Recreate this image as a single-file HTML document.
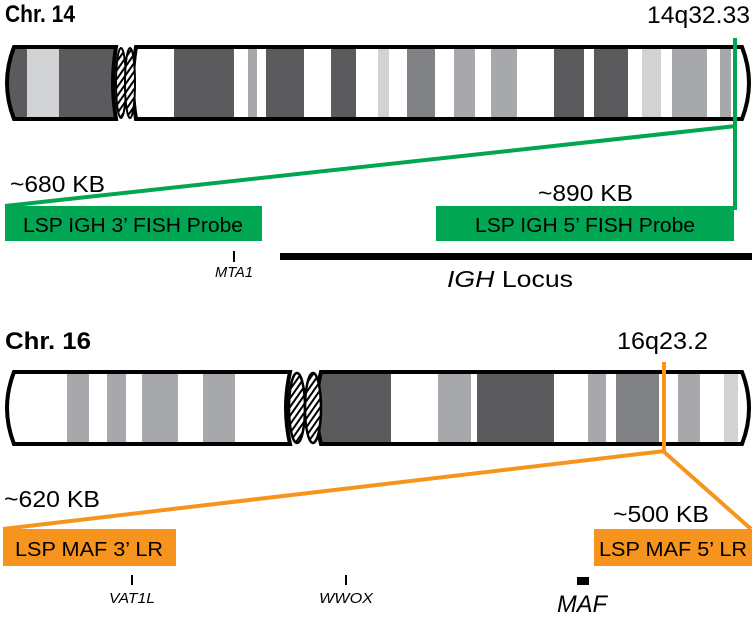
<!DOCTYPE html>
<html><head><meta charset="utf-8"><style>
html,body{margin:0;padding:0;background:#fff;}
svg{display:block;}
text{font-family:"Liberation Sans Narrow","Liberation Sans",sans-serif;}
</style></head><body>
<svg width="754" height="620" viewBox="0 0 754 620" xmlns="http://www.w3.org/2000/svg">
<defs>
<pattern id="h" width="5" height="5" patternUnits="userSpaceOnUse" patternTransform="rotate(35)">
<rect width="5" height="5" fill="#fff"/><rect width="2" height="5" fill="#000"/></pattern>
<clipPath id="c14l"><path d="M14,47 L116,47 Q110,83 116,119 L14,119 Q0,83 14,47Z"/></clipPath>
<clipPath id="c14r"><path d="M136,47 L742,47 Q756,83 742,119 L136,119 Q130,83 136,47Z"/></clipPath>
<clipPath id="c16l"><path d="M14,372 L290,372 Q282,408 290,444 L14,444 Q0,408 14,372Z"/></clipPath>
<clipPath id="c16r"><path d="M321,372 L742,372 Q756,408 742,444 L321,444 Q312,408 321,372Z"/></clipPath>
</defs>

<!-- Chr 14 -->
<text x="5" y="22" font-size="24" font-weight="bold" textLength="70" lengthAdjust="spacingAndGlyphs">Chr. 14</text>
<text x="647" y="23" font-size="24" textLength="103" lengthAdjust="spacingAndGlyphs">14q32.33</text>

<g clip-path="url(#c14l)">
<rect x="0" y="40" width="130" height="90" fill="#5b5b5d"/>
<rect x="27" y="40" width="32" height="90" fill="#d1d2d4"/>
</g>
<g clip-path="url(#c14r)">
<rect x="130" y="40" width="630" height="90" fill="#fff"/>
<rect x="174" y="40" width="60" height="90" fill="#5b5b5d"/>
<rect x="248" y="40" width="9" height="90" fill="#a7a8ab"/>
<rect x="266" y="40" width="38" height="90" fill="#5b5b5d"/>
<rect x="331" y="40" width="25" height="90" fill="#5b5b5d"/>
<rect x="378" y="40" width="11" height="90" fill="#d1d2d4"/>
<rect x="407" y="40" width="28" height="90" fill="#808184"/>
<rect x="454" y="40" width="21" height="90" fill="#a7a8ab"/>
<rect x="491" y="40" width="26" height="90" fill="#a7a8ab"/>
<rect x="554" y="40" width="30" height="90" fill="#5b5b5d"/>
<rect x="594" y="40" width="34" height="90" fill="#5b5b5d"/>
<rect x="642" y="40" width="19" height="90" fill="#d1d2d4"/>
<rect x="672" y="40" width="35" height="90" fill="#a7a8ab"/>
<rect x="720" y="40" width="11" height="90" fill="#a7a8ab"/>
</g>
<path d="M14,47 L116,47 Q110,83 116,119 L14,119 Q0,83 14,47Z" fill="none" stroke="#000" stroke-width="4"/>
<path d="M136,47 L742,47 Q756,83 742,119 L136,119 Q130,83 136,47Z" fill="none" stroke="#000" stroke-width="4"/>
<ellipse cx="121" cy="83" rx="5" ry="35" fill="url(#h)" stroke="#000" stroke-width="2"/>
<ellipse cx="130" cy="83" rx="5" ry="35" fill="url(#h)" stroke="#000" stroke-width="2"/>

<g stroke="#00a651" stroke-width="4" fill="none">
<line x1="735" y1="38" x2="735" y2="210"/>
<line x1="736" y1="126" x2="5" y2="206"/>
</g>
<text x="10" y="192" font-size="23" textLength="95" lengthAdjust="spacingAndGlyphs">~680 KB</text>
<text x="538" y="201" font-size="23" textLength="95" lengthAdjust="spacingAndGlyphs">~890 KB</text>
<rect x="5" y="206" width="257" height="35" fill="#00a651"/>
<rect x="436" y="206" width="298" height="35" fill="#00a651"/>
<text x="133" y="232" font-size="20" text-anchor="middle" textLength="220" lengthAdjust="spacingAndGlyphs">LSP IGH 3’ FISH Probe</text>
<text x="585" y="232" font-size="20" text-anchor="middle" textLength="220" lengthAdjust="spacingAndGlyphs">LSP IGH 5’ FISH Probe</text>
<rect x="233" y="251" width="2" height="11" fill="#000"/>
<text x="234" y="277" font-size="15" font-style="italic" text-anchor="middle" textLength="38" lengthAdjust="spacingAndGlyphs">MTA1</text>
<rect x="280" y="253" width="472" height="7" fill="#000"/>
<text x="510" y="287" font-size="23" text-anchor="middle" textLength="126" lengthAdjust="spacingAndGlyphs"><tspan font-style="italic">IGH</tspan> Locus</text>

<!-- Chr 16 -->
<text x="5" y="349" font-size="24" font-weight="bold" textLength="86" lengthAdjust="spacingAndGlyphs">Chr. 16</text>
<text x="617" y="349" font-size="24" textLength="91" lengthAdjust="spacingAndGlyphs">16q23.2</text>

<g clip-path="url(#c16l)">
<rect x="0" y="365" width="300" height="90" fill="#fff"/>
<rect x="67" y="365" width="22" height="90" fill="#a7a8ab"/>
<rect x="107" y="365" width="19" height="90" fill="#a7a8ab"/>
<rect x="142" y="365" width="36" height="90" fill="#a7a8ab"/>
<rect x="203" y="365" width="32" height="90" fill="#a7a8ab"/>
</g>
<g clip-path="url(#c16r)">
<rect x="310" y="365" width="450" height="90" fill="#fff"/>
<rect x="310" y="365" width="81" height="90" fill="#5b5b5d"/>
<rect x="438" y="365" width="33" height="90" fill="#a7a8ab"/>
<rect x="477" y="365" width="77" height="90" fill="#5b5b5d"/>
<rect x="588" y="365" width="18" height="90" fill="#a7a8ab"/>
<rect x="616" y="365" width="43" height="90" fill="#808184"/>
<rect x="678" y="365" width="22" height="90" fill="#a7a8ab"/>
<rect x="724" y="365" width="14" height="90" fill="#d1d2d4"/>
</g>
<path d="M14,372 L290,372 Q282,408 290,444 L14,444 Q0,408 14,372Z" fill="none" stroke="#000" stroke-width="4"/>
<path d="M321,372 L742,372 Q756,408 742,444 L321,444 Q312,408 321,372Z" fill="none" stroke="#000" stroke-width="4"/>
<ellipse cx="297" cy="408" rx="8" ry="35" fill="url(#h)" stroke="#000" stroke-width="2.5"/>
<ellipse cx="313" cy="408" rx="8" ry="35" fill="url(#h)" stroke="#000" stroke-width="2.5"/>

<g stroke="#f7941d" stroke-width="4" fill="none">
<line x1="664" y1="362" x2="664" y2="452"/>
<line x1="665" y1="451" x2="3" y2="529"/>
<line x1="663" y1="451" x2="751" y2="529"/>
</g>
<text x="4" y="507" font-size="23" textLength="96" lengthAdjust="spacingAndGlyphs">~620 KB</text>
<text x="613" y="522" font-size="23" textLength="96" lengthAdjust="spacingAndGlyphs">~500 KB</text>
<rect x="3" y="529" width="173" height="37" fill="#f7941d"/>
<rect x="594" y="529" width="158" height="37" fill="#f7941d"/>
<text x="89" y="556" font-size="20" text-anchor="middle" textLength="148" lengthAdjust="spacingAndGlyphs">LSP MAF 3’ LR</text>
<text x="673" y="556" font-size="20" text-anchor="middle" textLength="148" lengthAdjust="spacingAndGlyphs">LSP MAF 5’ LR</text>
<rect x="131" y="575" width="2" height="10" fill="#000"/>
<text x="132" y="603" font-size="15" font-style="italic" text-anchor="middle" textLength="46" lengthAdjust="spacingAndGlyphs">VAT1L</text>
<rect x="345" y="575" width="2" height="10" fill="#000"/>
<text x="346" y="603" font-size="15" font-style="italic" text-anchor="middle" textLength="54" lengthAdjust="spacingAndGlyphs">WWOX</text>
<rect x="577" y="577" width="12" height="8" fill="#000"/>
<text x="582" y="612" font-size="24" font-style="italic" text-anchor="middle" textLength="50" lengthAdjust="spacingAndGlyphs">MAF</text>
</svg>
</body></html>
